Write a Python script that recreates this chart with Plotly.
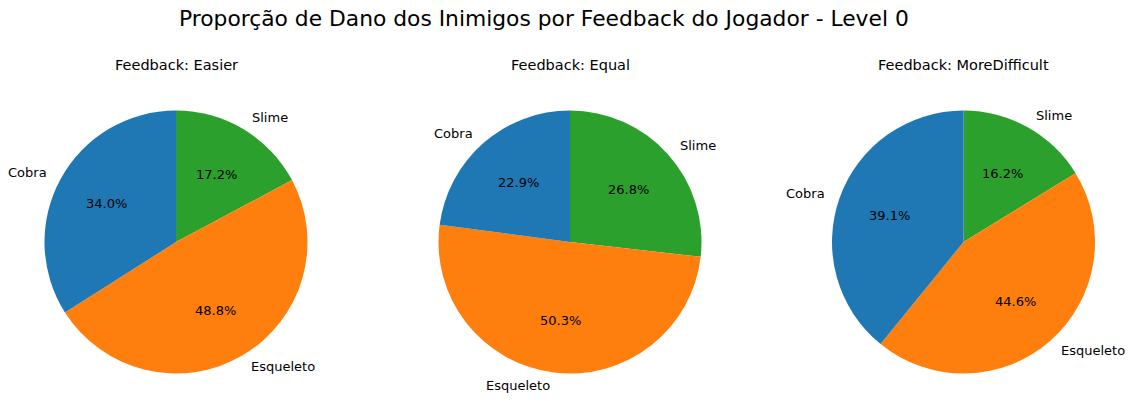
import math
import plotly.graph_objects as go

categories = ["Cobra", "Esqueleto", "Slime"]
feedbacks = ["Easier", "Equal", "MoreDifficult"]
easier_vals = [34.0, 48.8, 17.2]
equal_vals = [22.9, 50.3, 26.8]
moredifficult_vals = [39.14, 44.63, 16.23]
colors = ["#1f77b4", "#ff7f0e", "#2ca02c"]
title_text = "Proporção de Dano dos Inimigos por Feedback do Jogador - Level 0"

W, H = 1137, 416
centers_px = [176, 570, 963.5]
cy_px = 242
r_px = 131.5
FONT = "DejaVu Sans"

fig = go.Figure()
annotations = []
series = [easier_vals, equal_vals, moredifficult_vals]
for fb, vals, cx in zip(feedbacks, series, centers_px):
    dom_x = [(cx - r_px) / W, (cx + r_px) / W]
    dom_y = [(H - cy_px - r_px) / H, (H - cy_px + r_px) / H]
    # matplotlib draws counterclockwise from 12 o'clock; equivalently clockwise
    # from 12 o'clock with the order reversed
    fig.add_trace(go.Pie(
        labels=categories[::-1], values=vals[::-1], sort=False, direction="clockwise",
        rotation=0, marker=dict(colors=colors[::-1], line=dict(width=0)),
        textinfo="none", hoverinfo="skip", showlegend=False,
        domain=dict(x=dom_x, y=dom_y),
    ))
    total = sum(vals)
    cum = 0.0
    for lab, v in zip(categories, vals):
        ang = math.radians(90 + 360 * (cum + v / 2) / total)
        cum += v
        lx = cx + 1.1 * r_px * math.cos(ang)
        ly = cy_px - 1.1 * r_px * math.sin(ang)
        annotations.append(dict(
            x=lx / W, y=1 - ly / H, xref="paper", yref="paper", text=lab,
            showarrow=False, xanchor="left" if math.cos(ang) > 0 else "right",
            yanchor="middle", font=dict(family=FONT, size=13, color="black")))
        px_ = cx + 0.6 * r_px * math.cos(ang)
        py_ = cy_px - 0.6 * r_px * math.sin(ang)
        annotations.append(dict(
            x=px_ / W, y=1 - py_ / H, xref="paper", yref="paper",
            text=f"{100 * v / total:.1f}%", showarrow=False,
            xanchor="center", yanchor="middle",
            font=dict(family=FONT, size=13, color="black")))
    annotations.append(dict(
        x=cx / W, y=1 - 65 / H, xref="paper", yref="paper",
        text=f"Feedback: {fb}", showarrow=False, xanchor="center", yanchor="middle",
        font=dict(family=FONT, size=14.5, color="black")))

annotations.append(dict(
    x=543.5 / W, y=1 - 19 / H, xref="paper", yref="paper", text=title_text,
    showarrow=False, xanchor="center", yanchor="middle",
    font=dict(family=FONT, size=21.8, color="black")))

fig.update_layout(
    width=W, height=H, margin=dict(l=0, r=0, t=0, b=0),
    paper_bgcolor="white", plot_bgcolor="white",
    annotations=annotations, font=dict(family=FONT),
)
fig.write_html("out.html", config={"displayModeBar": False},
               post_script="document.body.style.margin='0';")
